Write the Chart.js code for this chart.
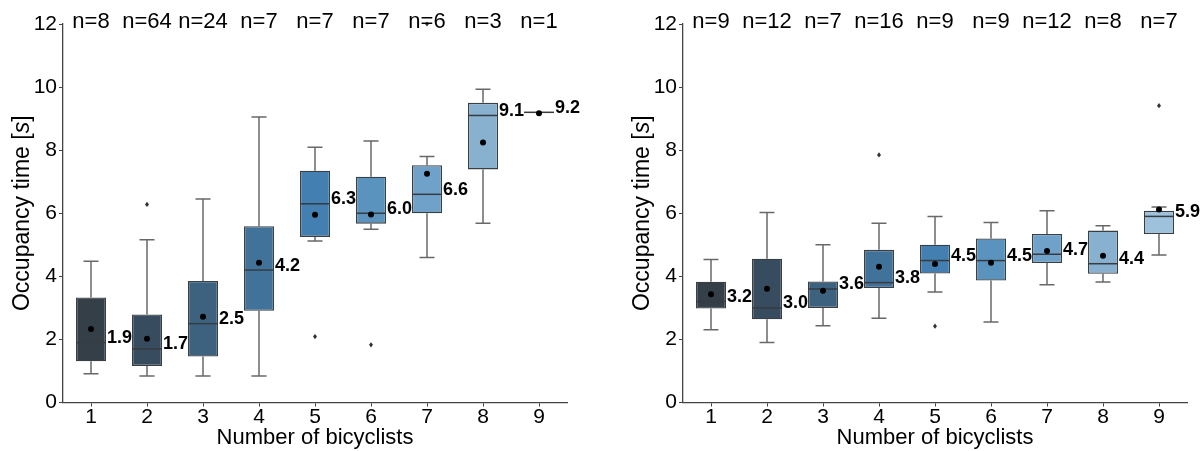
<!DOCTYPE html>
<html>
<head>
<meta charset="utf-8">
<script src="https://cdn.jsdelivr.net/npm/chart.js@4.4.1/dist/chart.umd.min.js"></script>
<style>
  html, body { margin: 0; padding: 0; background: #ffffff; }
  #wrap { position: relative; width: 1204px; height: 451px; overflow: hidden; }
  #left { position: absolute; left: 0; top: 0; }
  #right { position: absolute; left: 600px; top: 0; }
</style>
</head>
<body>
<div id="wrap">
  <canvas id="left" width="600" height="451"></canvas>
  <canvas id="right" width="604" height="451"></canvas>
</div>
<script>
// Categories (number of bicyclists) and y tick labels
const categories = ['1', '2', '3', '4', '5', '6', '7', '8', '9'];
const yTicks = [0, 2, 4, 6, 8, 10, 12];

// Box fill colours, dark to light
const boxColors = ['#343f48', '#384c5f', '#3d6280', '#41729a', '#4380b1',
                   '#5a93be', '#70a2c9', '#88b1d0', '#9ec1dc'];

// Left panel statistics (seconds)
const leftN      = [8, 64, 24, 7, 7, 7, 6, 3, 1];
const leftLow    = [0.91, 0.84, 0.84, 0.84, 5.12, 5.49, 4.60, 5.68, 9.2];
const leftQ1     = [1.31, 1.16, 1.46, 2.91, 5.25, 5.67, 6.00, 7.39, 9.2];
const leftMedian = [1.9, 1.7, 2.5, 4.2, 6.3, 6.0, 6.6, 9.1, 9.2];
const leftQ3     = [3.33, 2.79, 3.85, 5.59, 7.35, 7.16, 7.52, 9.50, 9.2];
const leftHigh   = [4.48, 5.16, 6.45, 9.05, 8.09, 8.29, 7.80, 9.93, 9.2];
const leftMean   = [2.33, 2.02, 2.72, 4.43, 5.95, 5.96, 7.25, 8.24, 9.17];
const leftOutliers = [[], [6.28], [], [], [2.09], [1.83], [12.0], [], []];

// Right panel statistics (seconds)
const rightN      = [9, 12, 7, 16, 9, 9, 12, 8, 7];
const rightLow    = [2.31, 1.90, 2.43, 2.67, 3.50, 2.55, 3.73, 3.82, 4.68];
const rightQ1     = [2.98, 2.64, 3.00, 3.63, 4.09, 3.87, 4.42, 4.08, 5.34];
const rightMedian = [3.2, 3.0, 3.6, 3.8, 4.5, 4.5, 4.7, 4.4, 5.9];
const rightQ3     = [3.83, 4.56, 3.84, 4.84, 5.00, 5.20, 5.34, 5.45, 6.08];
const rightHigh   = [4.53, 6.02, 5.00, 5.68, 5.90, 5.71, 6.08, 5.60, 6.20];
const rightMean   = [3.43, 3.61, 3.54, 4.30, 4.39, 4.43, 4.80, 4.65, 6.12];
const rightOutliers = [[], [], [], [7.85], [2.42], [], [], [], [9.41]];

const FONT = 'Liberation Sans';
const LABEL_FONT = 'bold 18px "Liberation Sans", Arial, sans-serif';

// Whiskers, medians, means, outliers, value labels and n= counts
function boxPlotPlugin(st) {
  return {
    id: 'boxPlot',
    beforeDatasetsDraw(chart) {
      const { ctx } = chart;
      const y = chart.scales.y;
      const bars = chart.getDatasetMeta(0).data;
      ctx.save();
      ctx.strokeStyle = '#686868';
      ctx.lineWidth = 1.5;
      st.median.forEach((m, i) => {
        if (st.n[i] < 2) return;
        const cx = bars[i].x;
        const cap = bars[i].width / 4;
        const yLo = y.getPixelForValue(st.low[i]);
        const yHi = y.getPixelForValue(st.high[i]);
        const yQ1 = y.getPixelForValue(st.q1[i]);
        const yQ3 = y.getPixelForValue(st.q3[i]);
        ctx.beginPath();
        ctx.moveTo(cx, yQ1); ctx.lineTo(cx, yLo);
        ctx.moveTo(cx - cap, yLo); ctx.lineTo(cx + cap, yLo);
        ctx.moveTo(cx, yQ3); ctx.lineTo(cx, yHi);
        ctx.moveTo(cx - cap, yHi); ctx.lineTo(cx + cap, yHi);
        ctx.stroke();
      });
      ctx.restore();
    },
    afterDatasetsDraw(chart) {
      const { ctx, chartArea } = chart;
      const y = chart.scales.y;
      const bars = chart.getDatasetMeta(0).data;
      ctx.save();
      st.median.forEach((m, i) => {
        const cx = bars[i].x;
        const half = bars[i].width / 2;
        const yMed = y.getPixelForValue(m);

        // median line
        ctx.strokeStyle = '#363c42';
        ctx.lineWidth = 1.5;
        ctx.beginPath();
        ctx.moveTo(cx - half, yMed);
        ctx.lineTo(cx + half, yMed);
        ctx.stroke();

        // outliers
        ctx.fillStyle = '#333333';
        st.outliers[i].forEach(v => {
          const oy = y.getPixelForValue(v);
          ctx.beginPath();
          ctx.moveTo(cx, oy - 2.6);
          ctx.lineTo(cx + 2, oy);
          ctx.lineTo(cx, oy + 2.6);
          ctx.lineTo(cx - 2, oy);
          ctx.closePath();
          ctx.fill();
        });

        // mean
        ctx.fillStyle = '#000000';
        ctx.beginPath();
        ctx.arc(cx, y.getPixelForValue(st.mean[i]), 3, 0, Math.PI * 2);
        ctx.fill();

        // median value label
        ctx.font = LABEL_FONT;
        ctx.textAlign = 'left';
        ctx.textBaseline = 'alphabetic';
        ctx.fillText(m.toFixed(1), cx + half + 1, yMed + 0.5);

        // sample size
        ctx.font = '22px "' + FONT + '"';
        ctx.textAlign = 'center';
        ctx.fillText('n=' + st.n[i], cx, chartArea.top + 4);
      });
      ctx.restore();
    },
    afterDraw(chart) {
      // y-axis title with italic unit symbol
      const { ctx, chartArea } = chart;
      const y = chart.scales.y;
      const parts = [
        { t: 'Occupancy time [', f: '23px "' + FONT + '"' },
        { t: 's', f: 'italic 23px "' + FONT + '"' },
        { t: ']', f: '23px "' + FONT + '"' }
      ];
      ctx.save();
      let total = 0;
      parts.forEach(p => { ctx.font = p.f; p.w = ctx.measureText(p.t).width; total += p.w; });
      ctx.translate(y.left + 23, (chartArea.top + chartArea.bottom) / 2);
      ctx.rotate(-Math.PI / 2);
      ctx.fillStyle = '#000000';
      ctx.textBaseline = 'middle';
      ctx.textAlign = 'left';
      let x0 = -total / 2;
      parts.forEach(p => { ctx.font = p.f; ctx.fillText(p.t, x0, 0); x0 += p.w; });
      ctx.restore();
    }
  };
}

function makePanel(canvasId, st, padLeft, padRight) {
  const boxes = st.q1.map((q, i) => [q, st.q3[i]]);
  return new Chart(document.getElementById(canvasId), {
    type: 'bar',
    data: {
      labels: categories,
      datasets: [{
        data: boxes,
        backgroundColor: boxColors,
        borderColor: '#3a3f44',
        borderWidth: 1.3,
        borderSkipped: false,
        barPercentage: 0.536,
        categoryPercentage: 1
      }]
    },
    options: {
      responsive: false,
      animation: false,
      devicePixelRatio: 1,
      layout: { padding: { left: padLeft, right: padRight, top: 24, bottom: 0 } },
      plugins: { legend: { display: false }, tooltip: { enabled: false } },
      scales: {
        x: {
          grid: { offset: false, drawOnChartArea: false, drawTicks: true, tickLength: 4, color: '#444' },
          border: { display: true, color: '#444', width: 1.3 },
          ticks: { color: '#000', padding: 0, font: { family: FONT, size: 21, lineHeight: 1 } },
          title: {
            display: true, text: 'Number of bicyclists', color: '#000',
            font: { family: FONT, size: 22, lineHeight: 1 }, padding: { top: 0, bottom: 2 }
          },
          afterFit: s => { s.height = 48.5; }
        },
        y: {
          min: 0, max: 12,
          afterBuildTicks: s => { s.ticks = yTicks.map(v => ({ value: v })); },
          grid: { drawOnChartArea: false, drawTicks: true, tickLength: 4, color: '#444' },
          border: { display: true, color: '#444', width: 1.3 },
          ticks: { color: '#000', padding: 2, font: { family: FONT, size: 21 } },
          afterFit: s => { s.width = 63; }
        }
      }
    },
    plugins: [boxPlotPlugin(st)]
  });
}

makePanel('left', {
  n: leftN, low: leftLow, q1: leftQ1, median: leftMedian, q3: leftQ3,
  high: leftHigh, mean: leftMean, outliers: leftOutliers
}, 0, 33);

makePanel('right', {
  n: rightN, low: rightLow, q1: rightQ1, median: rightMedian, q3: rightQ3,
  high: rightHigh, mean: rightMean, outliers: rightOutliers
}, 20, 17);
</script>
</body>
</html>
